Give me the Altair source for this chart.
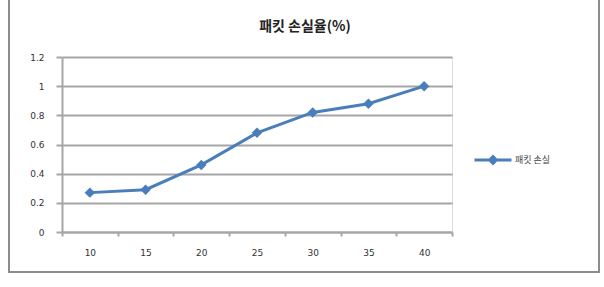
import altair as alt
import pandas as pd

categories = ["10", "15", "20", "25", "30", "35", "40"]
values = [0.27, 0.29, 0.46, 0.68, 0.82, 0.88, 1.0]
series_name = "패킷 손실"
title_text = "패킷 손실율(%)"

df = pd.DataFrame({"x": categories, "y": values, "s": [series_name] * len(categories)})

FONT = "DejaVu Sans"
KFONT = "Noto Sans CJK KR"
BLUE = "#4A7EBB"
GRID = "#A6A6A6"

legend_path = "M-1,0H1M0,-0.18L0.18,0L0,0.18L-0.18,0Z"

base = alt.Chart(df)

xenc = alt.X(
    "x:N",
    sort=categories,
    scale=alt.Scale(type="band", paddingInner=0, paddingOuter=0),
    axis=alt.Axis(
        title=None, labelAngle=0, tickBand="extent", grid=False,
        domainColor=GRID, domainWidth=2, tickColor=GRID, tickWidth=2,
        tickSize=4, labelPadding=12, labelFont=FONT, labelFontSize=9,
        labelColor="#333333",
    ),
)
yenc = alt.Y(
    "y:Q",
    scale=alt.Scale(domain=[0, 1.2], nice=False),
    axis=alt.Axis(
        title=None, values=[0, 0.2, 0.4, 0.6, 0.8, 1.0, 1.2], format="~g",
        gridColor=GRID, gridWidth=2, domainColor=GRID, domainWidth=2,
        tickColor=GRID, tickWidth=2, tickSize=6, labelPadding=12,
        labelFont=FONT, labelFontSize=9, labelColor="#333333",
    ),
)
color = alt.Color(
    "s:N",
    scale=alt.Scale(domain=[series_name], range=[BLUE]),
    legend=alt.Legend(
        title=None, orient="none", legendX=411, legendY=83,
        symbolType=legend_path, symbolSize=1369, symbolStrokeWidth=3,
        symbolFillColor=BLUE, labelFont=KFONT, labelFontSize=9,
        labelColor="#444444", labelOffset=2,
    ),
)

line = base.mark_line(strokeWidth=3).encode(x=xenc, y=yenc, color=color)
pts = base.mark_point(shape="diamond", filled=True, size=110, opacity=1).encode(
    x=xenc, y=yenc, color=alt.Color("s:N", scale=alt.Scale(domain=[series_name], range=[BLUE]), legend=None)
)

frame = alt.Chart(pd.DataFrame({"a": [0]})).mark_rect(
    fill=None, stroke="#8C8C8C", strokeWidth=2
).encode(
    x=alt.value(-53), x2=alt.value(537), y=alt.value(-58), y2=alt.value(215)
)

title = alt.Chart(pd.DataFrame({"t": [title_text]})).mark_text(
    font=KFONT, fontSize=14, fontWeight="bold", color="#222222",
    align="center", baseline="middle",
).encode(text="t:N", x=alt.value(243), y=alt.value(-30))

chart = alt.layer(frame, line, pts, title).properties(
    width=390,
    height=175,
    padding={"left": 62, "top": 57, "right": 152, "bottom": 55},
    autosize=alt.AutoSizeParams(type="none"),
).configure_view(stroke=None).configure(background="white")

chart.save("out.html", embed_options={"renderer": "svg", "actions": False})
